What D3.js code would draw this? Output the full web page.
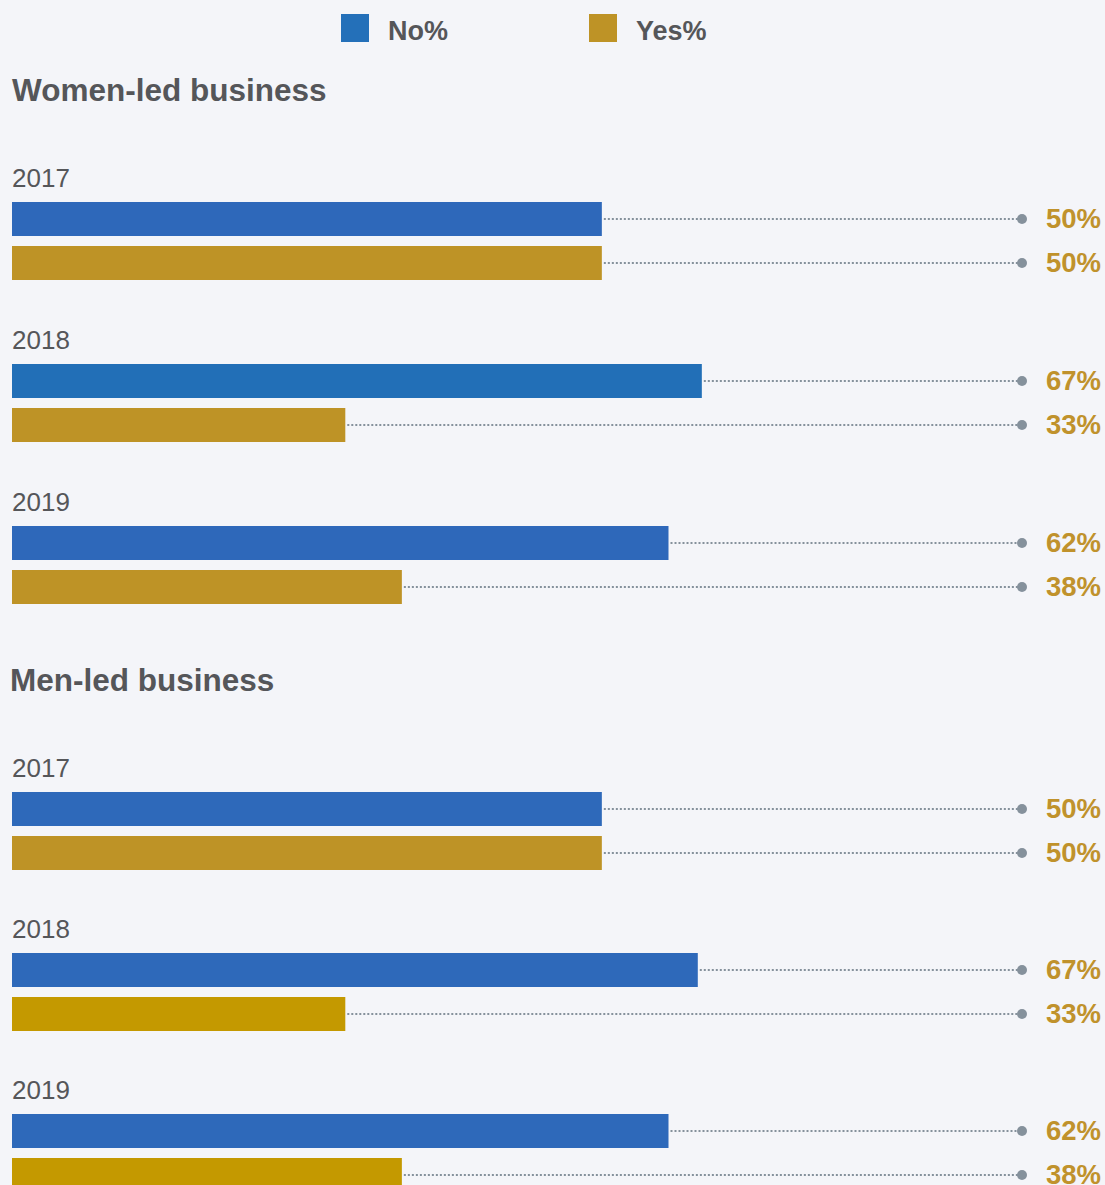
<!DOCTYPE html>
<html lang="en">
  <head>
    <meta charset="UTF-8">
    <title>No% / Yes% by business type</title>
    <script src="https://cdn.jsdelivr.net/npm/d3@7"></script>
    <style>
      html, body {
        margin: 0;
        padding: 0;
        background: #f4f5f9;
      }
      body {
        font-family: 'Liberation Sans', Arial, sans-serif;
      }
      svg { display: block; }
    </style>
  </head>
  <body>
    <script>
      const years = ["2017", "2018", "2019"];
      const sections = ["Women-led business", "Men-led business"];
      const seriesNames = ["No%", "Yes%"];

      // printed labels
      const womenNoLabel = [50, 67, 62];
      const womenYesLabel = [50, 33, 38];
      const menNoLabel = [50, 67, 62];
      const menYesLabel = [50, 33, 38];

      // bar lengths as drawn (0-100 along the guide line)
      const womenNoBar = [58.4, 68.3, 65.0];
      const womenYesBar = [58.4, 33.0, 38.6];
      const menNoBar = [58.4, 67.9, 65.0];
      const menYesBar = [58.4, 33.0, 38.6];

      const width = 1105, height = 1185;
      const bg = "#f4f5f9";
      const textGray = "#555659";
      const labelGold = "#c0922c";
      const guideGray = "#85919c";

      const legendColors = ["#2470b9", "#be9326"];
      const womenNoColors = ["#2e68ba", "#226fb7", "#2e68ba"];
      const womenYesColor = "#be9326";
      const menNoColor = "#2e69ba";
      const menYesColors = ["#be9326", "#c49900", "#c49900"];

      const sectionData = [
        { title: sections[0], top: 0, step: 162, rows: years.map((y, i) => ({
          year: y,
          bars: [
            { bar: womenNoBar[i], label: womenNoLabel[i], color: womenNoColors[i] },
            { bar: womenYesBar[i], label: womenYesLabel[i], color: womenYesColor }
          ]
        })) },
        { title: sections[1], top: 590, step: 161, rows: years.map((y, i) => ({
          year: y,
          bars: [
            { bar: menNoBar[i], label: menNoLabel[i], color: menNoColor },
            { bar: menYesBar[i], label: menYesLabel[i], color: menYesColors[i] }
          ]
        })) }
      ];

      const x = d3.scaleLinear().domain([0, 100]).range([12, 1022]);
      // bars inside a year row: 34px tall, 10px apart
      const barY = d3.scaleBand().domain([0, 1]).range([41, 119]).paddingInner(10 / 44);

      const svg = d3.select("body").append("svg")
        .attr("width", width)
        .attr("height", height);

      svg.append("rect").attr("width", width).attr("height", height).attr("fill", bg);

      // legend
      const legend = svg.append("g").attr("class", "legend");
      const legendX = d3.scalePoint().domain(seriesNames).range([341, 589]);
      const lg = legend.selectAll("g").data(seriesNames).enter().append("g")
        .attr("transform", d => `translate(${legendX(d)},14)`);
      lg.append("rect")
        .attr("width", 28).attr("height", 28)
        .attr("fill", (d, i) => legendColors[i]);
      lg.append("text")
        .attr("x", 47).attr("y", 26)
        .attr("font-size", 27).attr("font-weight", "bold")
        .attr("fill", textGray)
        .text(d => d);

      const sec = svg.selectAll("g.section").data(sectionData).enter().append("g")
        .attr("class", "section")
        .attr("transform", d => `translate(0,${d.top})`);

      sec.append("text")
        .attr("x", (d, i) => i === 0 ? 12 : 10)
        .attr("y", 101)
        .attr("font-size", 31.5).attr("font-weight", "bold")
        .attr("fill", textGray)
        .text(d => d.title);

      const rows = sec.selectAll("g.row")
        .data(d => {
          const rowY = d3.scalePoint().domain(years).range([161, 161 + 2 * d.step]);
          return d.rows.map(r => Object.assign({ y: rowY(r.year) }, r));
        })
        .enter().append("g")
        .attr("class", "row")
        .attr("transform", d => `translate(0,${d.y})`);

      rows.append("text")
        .attr("x", 12).attr("y", 26)
        .attr("font-size", 26)
        .attr("fill", textGray)
        .text(d => d.year);

      const bars = rows.selectAll("g.bar").data(d => d.bars).enter().append("g").attr("class", "bar");

      bars.append("line")
        .attr("x1", d => x(d.bar) + 2)
        .attr("x2", x(100))
        .attr("y1", (d, i) => barY(i) + barY.bandwidth() / 2)
        .attr("y2", (d, i) => barY(i) + barY.bandwidth() / 2)
        .attr("stroke", guideGray)
        .attr("stroke-width", 2)
        .attr("stroke-dasharray", "2,2");

      bars.append("circle")
        .attr("cx", x(100))
        .attr("cy", (d, i) => barY(i) + barY.bandwidth() / 2)
        .attr("r", 5)
        .attr("fill", guideGray);

      bars.append("rect")
        .attr("x", x(0))
        .attr("y", (d, i) => barY(i))
        .attr("width", d => x(d.bar) - x(0))
        .attr("height", barY.bandwidth())
        .attr("fill", d => d.color);

      bars.append("text")
        .attr("x", 1101)
        .attr("y", (d, i) => barY(i) + barY.bandwidth() / 2 + 9)
        .attr("text-anchor", "end")
        .attr("font-size", 27.5).attr("font-weight", "bold")
        .attr("fill", labelGold)
        .text(d => d.label + "%");
    </script>
  </body>
</html>
